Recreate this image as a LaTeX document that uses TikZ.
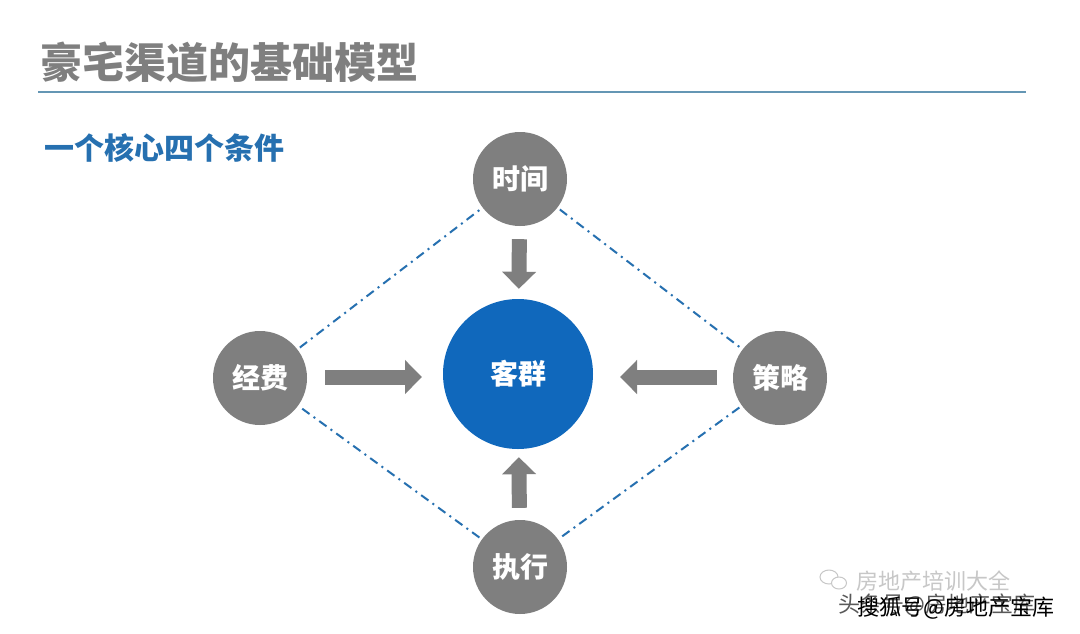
\documentclass[tikz,border=0pt]{standalone}
\usepackage{fontspec}
\setmainfont{Noto Sans CJK SC}
\newfontfamily\cjk{Noto Sans CJK SC}
\newfontfamily\cjkb{Noto Sans CJK SC Black}
\usetikzlibrary{arrows.meta}
\definecolor{cgray}{RGB}{127,127,127}
\definecolor{cblue}{RGB}{16,104,188}
\definecolor{lblue}{RGB}{38,112,176}
\definecolor{rule}{RGB}{100,150,180}
\begin{document}
\begin{tikzpicture}[x=1pt,y=-1pt,
  sat/.style={circle,fill=cgray,minimum size=94pt,inner sep=0pt,text=white,font=\cjkb\fontsize{28}{30}\selectfont},
  core/.style={circle,fill=cblue,minimum size=150pt,inner sep=0pt,text=white,font=\cjkb\fontsize{28}{30}\selectfont},
  blockarrow/.style={draw=cgray,line width=15pt,-{Triangle[width=33pt,length=17pt]}},
  dashdot/.style={draw=lblue,line width=2pt,dash pattern=on 9pt off 5pt on 2pt off 5pt,shorten <=3pt,shorten >=3pt}]
\useasboundingbox (0,0) rectangle (1080,633);
\fill[white] (0,0) rectangle (1080,633);
% title
\node[anchor=west,inner sep=0pt,text=cgray,font=\cjkb\fontsize{42}{46}\selectfont] (title) at (40,62) {豪宅渠道的基础模型};
\draw[rule,line width=1.4pt] (38,92) coordinate (r1) -- (1026,92) coordinate (r2);
\node[anchor=west,inner sep=0pt,text=lblue,font=\cjkb\fontsize{30}{34}\selectfont] (sub) at (44,148) {一个核心四个条件};
% nodes
\node[core] (kq) at (518,374) {客群};
\node[sat] (sj) at (520,179) {时间};
\node[sat] (jf) at (260,378) {经费};
\node[sat] (cl) at (780,378) {策略};
\node[sat] (zx) at (520,567) {执行};
% dash-dot diamond
\draw[dashdot] (jf) -- (sj);
\draw[dashdot] (sj) -- (cl);
\draw[dashdot] (cl) -- (zx);
\draw[dashdot] (zx) -- (jf);
% block arrows
\draw[blockarrow,shorten <=13pt,shorten >=10pt] (sj) -- (kq);
\draw[blockarrow,shorten <=12pt,shorten >=8pt] (zx) -- (kq);
\coordinate (ja) at (325,377);
\coordinate (jb) at (422,377);
\coordinate (ca) at (717,377);
\coordinate (cb) at (620,377);
\draw[blockarrow] (ja) -- (jb);
\draw[blockarrow] (ca) -- (cb);
% watermark
\begin{scope}[draw=black!22,line width=1pt]
  \draw (829,577) ellipse [x radius=9pt,y radius=7pt];
  \draw[fill=white] (839,583) ellipse [x radius=7.5pt,y radius=6pt];
\end{scope}
\node[anchor=west,inner sep=0pt,text=black!22,font=\cjk\fontsize{22}{24}\selectfont] (wm1) at (856,581) {房地产培训大全};
\node[anchor=west,inner sep=0pt,text=black!65,font=\cjk\fontsize{22}{24}\selectfont] (wm2) at (838,605) {头条号@房地产宝库};
\node[anchor=west,inner sep=0pt,text=black,font=\cjk\fontsize{22}{24}\selectfont] (wm3) at (857,608) {搜狐号@房地产宝库};
\end{tikzpicture}
\end{document}
